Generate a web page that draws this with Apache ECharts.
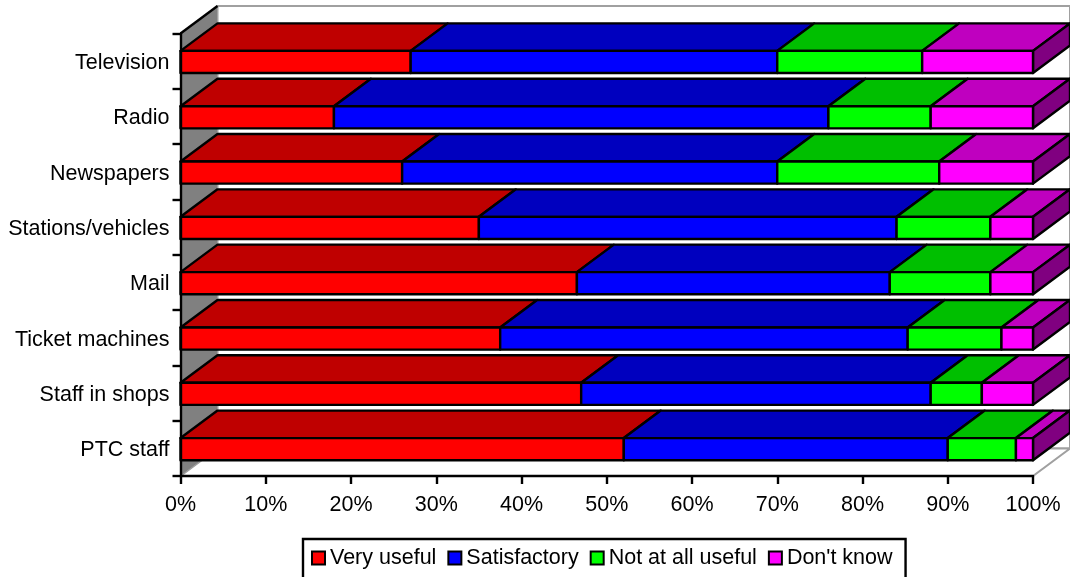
<!DOCTYPE html>
<html>
<head>
<meta charset="utf-8">
<style>
  html, body { margin: 0; padding: 0; background: #fff; }
  #chart { width: 1070px; height: 577px; }
</style>
<script src="https://cdn.jsdelivr.net/npm/echarts@6/dist/echarts.min.js"></script>
</head>
<body>
<div id="chart"></div>
<script>
// Survey answers per information channel, in percent of respondents.
const categories = ['Television', 'Radio', 'Newspapers', 'Stations/vehicles', 'Mail', 'Ticket machines', 'Staff in shops', 'PTC staff'];
const veryUseful   = [27, 18, 26, 35, 46.5, 37.5, 47, 52];
const satisfactory = [43, 58, 44, 49, 36.7, 47.8, 41, 38];
const notAtAll     = [17, 12, 19, 11, 11.8, 11, 6, 8];
const dontKnow     = [13, 12, 11, 5, 5, 3.7, 6, 2];
const xTicks = [0, 10, 20, 30, 40, 50, 60, 70, 80, 90, 100];

const seriesNames = ['Very useful', 'Satisfactory', 'Not at all useful', "Don't know"];
const seriesValues = [veryUseful, satisfactory, notAtAll, dontKnow];
const frontColors = ['#FF0000', '#0000FF', '#00FF00', '#FF00FF'];
const topColors = ['#BF0000', '#0000BF', '#00BF00', '#BF00BF'];
const sideColors = ['#800000', '#000080', '#008000', '#800080'];

// Oblique projection vector shared by the bars and the chart box.
const DEPTH_X = 37;
const DEPTH_Y = -27.5;
const BAR_RATIO = 0.4;
const EDGE = { stroke: '#000', lineWidth: 2.4, lineJoin: 'round' };

function quad(p) {
  return { type: 'polygon', shape: { points: p } };
}

// Back wall, floor and left wall of the box.
function renderWalls(params) {
  const g = params.coordSys;
  const l = g.x, r = g.x + g.width, t = g.y, b = g.y + g.height;
  const wallLine = { stroke: '#A0A0A0', lineWidth: 2 };
  return {
    type: 'group',
    children: [
      Object.assign(quad([[l + DEPTH_X, t + DEPTH_Y], [r + DEPTH_X, t + DEPTH_Y], [r + DEPTH_X, b + DEPTH_Y], [l + DEPTH_X, b + DEPTH_Y]]),
        { style: Object.assign({ fill: '#fff' }, wallLine) }),
      Object.assign(quad([[l, b], [r, b], [r + DEPTH_X, b + DEPTH_Y], [l + DEPTH_X, b + DEPTH_Y]]),
        { style: Object.assign({ fill: '#fff' }, wallLine) }),
      Object.assign(quad([[l, t], [l + DEPTH_X, t + DEPTH_Y], [l + DEPTH_X, b + DEPTH_Y], [l, b]]),
        { style: { fill: '#808080', stroke: '#A0A0A0', lineWidth: 1 } }),
      { type: 'line', shape: { x1: l, y1: t, x2: l + DEPTH_X, y2: t + DEPTH_Y }, style: { stroke: '#000', lineWidth: 2.4 } }
    ]
  };
}

// One stacked segment: top face, optional end face, then the front face.
function renderSegment(seriesIdx) {
  return function (params, api) {
    const start = api.value(0), end = api.value(1), cat = api.value(2);
    const p0 = api.coord([start, cat]);
    const p1 = api.coord([end, cat]);
    const h = api.size([0, 1])[1] * BAR_RATIO;
    const x0 = p0[0], x1 = p1[0];
    const yT = p0[1] - h / 2 + 0.8, yB = p0[1] + h / 2 + 0.8;
    const children = [
      Object.assign(quad([[x0, yT], [x1, yT], [x1 + DEPTH_X, yT + DEPTH_Y], [x0 + DEPTH_X, yT + DEPTH_Y]]),
        { style: Object.assign({ fill: topColors[seriesIdx] }, EDGE) })
    ];
    if (seriesIdx === seriesNames.length - 1) {
      children.push(Object.assign(quad([[x1, yT], [x1 + DEPTH_X, yT + DEPTH_Y], [x1 + DEPTH_X, yB + DEPTH_Y], [x1, yB]]),
        { style: Object.assign({ fill: sideColors[seriesIdx] }, EDGE) }));
    }
    children.push(Object.assign(quad([[x0, yT], [x1, yT], [x1, yB], [x0, yB]]),
      { style: Object.assign({ fill: frontColors[seriesIdx] }, EDGE) }));
    return { type: 'group', children };
  };
}

const stackedSeries = seriesNames.map(function (name, s) {
  const data = categories.map(function (_, c) {
    let start = 0;
    for (let k = 0; k < s; k++) start += seriesValues[k][c];
    return [start, start + seriesValues[s][c], c];
  });
  return {
    name: name,
    type: 'custom',
    coordinateSystem: 'cartesian2d',
    renderItem: renderSegment(s),
    encode: { x: [0, 1], y: 2 },
    itemStyle: { color: frontColors[s], borderColor: '#000', borderWidth: 3 },
    clip: false,
    silent: true,
    data: data
  };
});

const font = { fontFamily: '"Liberation Sans", Arial, sans-serif', fontSize: 21.5, color: '#000' };

const chart = echarts.init(document.getElementById('chart'), null, { renderer: 'canvas' });
chart.setOption({
  animation: false,
  backgroundColor: '#fff',
  grid: { left: 180.5, top: 33.5, width: 852.5, height: 442.5, containLabel: false },
  xAxis: {
    type: 'value',
    min: xTicks[0],
    max: xTicks[xTicks.length - 1],
    interval: xTicks[1] - xTicks[0],
    splitLine: { show: false },
    axisLine: { show: true, lineStyle: { color: '#000', width: 2.4 } },
    axisTick: { show: true, length: 8, lineStyle: { color: '#000', width: 2.4 } },
    axisLabel: Object.assign({ margin: 18, formatter: '{value}%', showMinLabel: true, showMaxLabel: true, hideOverlap: false }, font),
    z: 10
  },
  yAxis: {
    type: 'category',
    inverse: true,
    data: categories,
    axisLine: { show: true, lineStyle: { color: '#000', width: 2.4 } },
    axisTick: { show: true, length: 8, lineStyle: { color: '#000', width: 2.4 } },
    axisLabel: Object.assign({
      margin: 11,
      interval: 0,
      formatter: '{name|{value}}',
      rich: { name: Object.assign({ padding: [4, 0, 0, 0] }, font) }
    }, font),
    z: 10
  },
  legend: {
    data: seriesNames,
    left: 303,
    top: 539,
    orient: 'horizontal',
    padding: [8, 13, 30, 8],
    borderColor: '#000',
    borderWidth: 2.4,
    itemWidth: 13,
    itemHeight: 13,
    itemGap: 11,
    icon: 'rect',
    selectedMode: false,
    textStyle: font
  },
  series: [{
    name: 'walls',
    type: 'custom',
    coordinateSystem: 'cartesian2d',
    renderItem: renderWalls,
    encode: { x: 0 },
    clip: false,
    silent: true,
    data: [[0]]
  }].concat(stackedSeries)
});
</script>
</body>
</html>
